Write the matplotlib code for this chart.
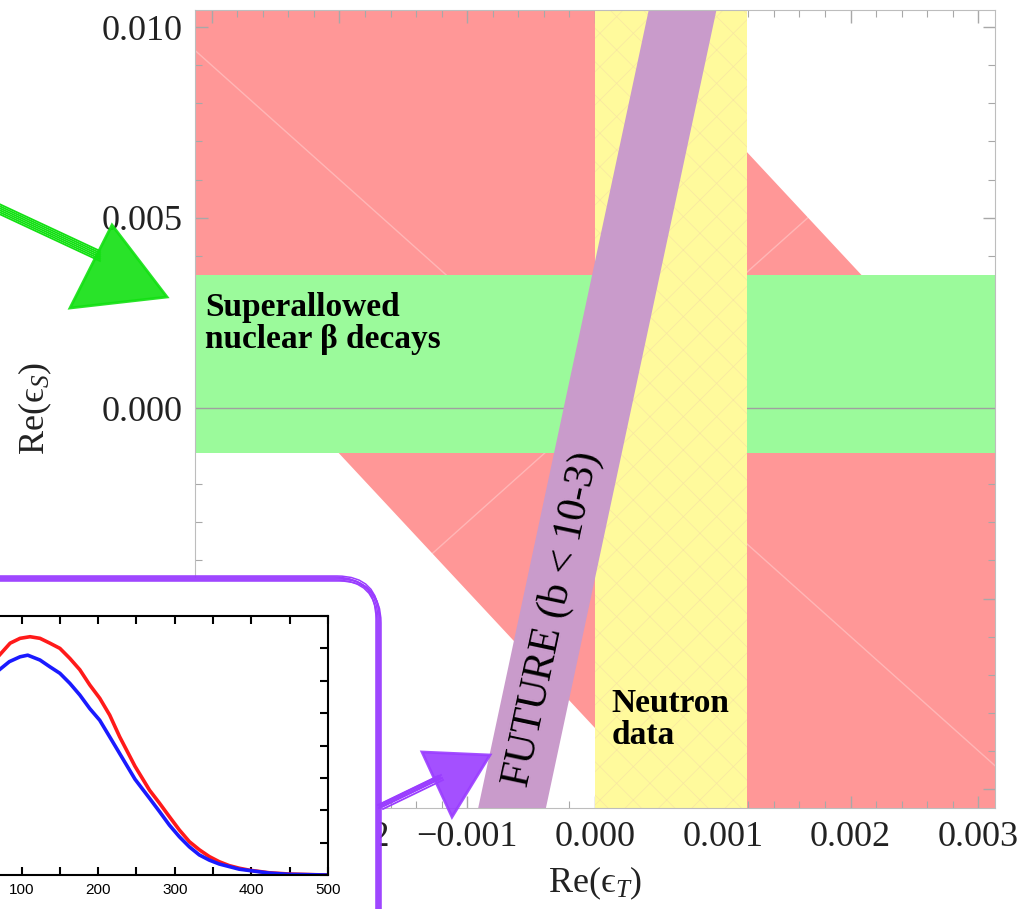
import numpy as np
import matplotlib.pyplot as plt
from matplotlib.patches import FancyBboxPatch, Polygon
from matplotlib.ticker import MultipleLocator, FuncFormatter

plt.rcParams['font.family'] = ['Liberation Serif', 'DejaVu Serif']
plt.rcParams['mathtext.fontset'] = 'custom'
plt.rcParams['mathtext.rm'] = 'Liberation Serif'
plt.rcParams['mathtext.it'] = 'Liberation Serif:italic'
plt.rcParams['hatch.linewidth'] = 0.5

# main plot: Re(eps_T) vs Re(eps_S)
x_lim = [-0.00313, 0.00313]
y_lim = [-0.0105, 0.01045]
x_ticks = [-0.003, -0.002, -0.001, 0.0, 0.001, 0.002, 0.003]
y_ticks = [-0.010, -0.005, 0.0, 0.005, 0.010]

# red band: red_low < y - red_slope*x < red_high
red_slope = -3.6
red_low = -0.0084
red_high = 0.0110
# faint seams inside the red region (through origin)
seam_slopes = [-3.0, 3.0]
# superallowed nuclear beta decays (green)
green_y = [-0.00118, 0.0035]
# neutron data (yellow)
yellow_x = [0.0, 0.00119]
# future b < 1e-3 (purple): x = x0 + y/slope
purple_x0 = [-0.00025, 0.00028]
purple_slope = 15.7

# inset spectra
red_E = [71, 85, 98, 111, 124, 137, 150, 163, 176, 189, 202, 215, 228, 248,
         267, 280, 293, 306, 319, 332, 345, 358, 371, 384, 397, 423, 449, 497]
red_N = [679, 716, 731, 736, 731, 716, 700, 669, 634, 587, 546, 494, 427, 336,
         262, 222, 180, 139, 103, 78, 57, 41, 29, 21, 15, 7, 3, 0]
blue_E = [71, 84, 98, 108, 124, 137, 150, 163, 176, 189, 202, 219, 248,
          267, 280, 293, 306, 319, 332, 345, 358, 371, 384, 397, 423, 449, 497]
blue_N = [634, 659, 674, 679, 664, 643, 623, 592, 556, 514, 478, 411, 296,
          237, 196, 154, 118, 87, 62, 46, 34, 26, 18, 14, 6, 2, 0]

red_c = '#ff9797'
green_c = '#9bfa9b'
yellow_c = '#fffa9c'
purple_c = '#c99bcb'
pen_purple = '#9a3dff'
pen_green = '#12e012'

W, H = 1031, 909
fig = plt.figure(figsize=(W / 100, H / 100), dpi=100)
ax = fig.add_axes([195 / W, 1 - 808 / H, 800 / W, 798 / H])

xx = np.array(x_lim)
yy = np.array(y_lim)
ax.fill_between(xx, red_low + red_slope * xx, red_high + red_slope * xx,
                color=red_c, lw=0, zorder=1)
for k in seam_slopes:
    ax.plot(xx, k * xx, color='white', alpha=0.3, lw=1, zorder=1.5)
ax.axhspan(green_y[0], green_y[1], color=green_c, lw=0, zorder=2)
ax.axhline(0, color='#a0a0a0', lw=1, zorder=2.5)
ax.axvspan(yellow_x[0], yellow_x[1], facecolor=yellow_c, edgecolor='#f8e6a2',
           hatch='x', lw=0, zorder=3)
ax.fill_betweenx(yy, purple_x0[0] + yy / purple_slope, purple_x0[1] + yy / purple_slope,
                 color=purple_c, lw=0, zorder=4)

ax.set_xlim(x_lim)
ax.set_ylim(y_lim)
ax.set_xticks(x_ticks)
ax.set_yticks(y_ticks)
ax.xaxis.set_minor_locator(MultipleLocator(0.0002))
ax.yaxis.set_minor_locator(MultipleLocator(0.001))
fmt = FuncFormatter(lambda v, p: f"{v:.3f}".replace('-', '\u2212'))
ax.xaxis.set_major_formatter(fmt)
ax.yaxis.set_major_formatter(fmt)
ax.tick_params(which='both', direction='in', top=True, right=True,
               color='#a8a8a8', labelsize=26, labelcolor='#222222')
ax.tick_params(which='major', length=9, width=1, pad=9)
ax.tick_params(which='minor', length=5, width=0.8)
for s in ax.spines.values():
    s.set_color('#bdbdbd')
    s.set_zorder(6)

ax.set_xlabel('Re(\u03f5$_{T}$)', fontsize=26, color='#222222', va='center')
ax.xaxis.set_label_coords(0.5, -0.094)
ax.set_ylabel('Re(\u03f5$_{S}$)', fontsize=26, color='#222222', va='center')
ax.yaxis.set_label_coords(-0.2, 0.5)

ax.text(-0.00305, 0.00221, 'Superallowed\nnuclear \u03b2 decays', fontsize=24,
        fontweight='bold', ha='left', va='center', linespacing=1.05, zorder=7)
ax.text(0.00013, -0.00818, 'Neutron\ndata', fontsize=24, fontweight='bold',
        ha='left', va='center', linespacing=1.05, zorder=7)
ax.text(-0.00033, -0.00553, 'FUTURE (b < 10-3)', fontsize=30, rotation=78,
        rotation_mode='anchor', ha='center', va='center', zorder=7)

# white box covering lower left
ov = fig.add_axes([0, 0, 1, 1], zorder=1)
ov.set_xlim(0, W)
ov.set_ylim(H, 0)
ov.axis('off')
ov.patch.set_alpha(0)
ov.add_patch(FancyBboxPatch((-60, 578), 440, 420, boxstyle='round,pad=0,rounding_size=42',
                            fc='white', ec='none'))

# inset spectrum
axin = fig.add_axes([-55 / W, 1 - 875 / H, 383 / W, 259 / H], zorder=2)
axin.plot(red_E, red_N, color='#ff1a1a', lw=2.6)
axin.plot(blue_E, blue_N, color='#1a1aff', lw=2.6)
axin.set_xlim(0, 500)
axin.set_ylim(0, 800)
axin.set_xticks([100, 200, 300, 400, 500])
axin.xaxis.set_minor_locator(MultipleLocator(50))
axin.yaxis.set_major_locator(MultipleLocator(100))
axin.tick_params(which='both', direction='in', top=True, right=True, length=6, width=1.5,
                 labelsize=11, labelleft=False, pad=6)
for lab in axin.get_xticklabels():
    lab.set_family('Liberation Sans')
for s in axin.spines.values():
    s.set_linewidth(1.5)

# hand drawn marks
pen = fig.add_axes([0, 0, 1, 1], zorder=3)
pen.set_xlim(0, W)
pen.set_ylim(H, 0)
pen.axis('off')
pen.patch.set_alpha(0)
for dx, dy in [(0, 0), (2, 1), (-1, 2), (1, -2), (3, 3), (-2, -1)]:
    pen.add_patch(FancyBboxPatch((-60 + dx, 578 + dy), 438, 420,
                                 boxstyle='round,pad=0,rounding_size=42',
                                 fc='none', ec=pen_purple, lw=1.1))
    pen.plot([380 + dx, 440 + dx], [806 + dy, 777 + dy], color=pen_purple, lw=1.3)
for d in [-5, -3, -1, 1, 3, 5]:
    pen.plot([-5, 100], [207 + d, 256 + d], color=pen_green, lw=1.3)
pen.add_patch(Polygon([(422, 752), (490, 755), (452, 817)], closed=True,
                      fc=pen_purple, ec=pen_purple, lw=2, alpha=0.9))
pen.add_patch(Polygon([(112, 225), (167, 297), (70, 308)], closed=True,
                      fc=pen_green, ec=pen_green, lw=2, alpha=0.9))

fig.savefig('out.png', dpi=100)
